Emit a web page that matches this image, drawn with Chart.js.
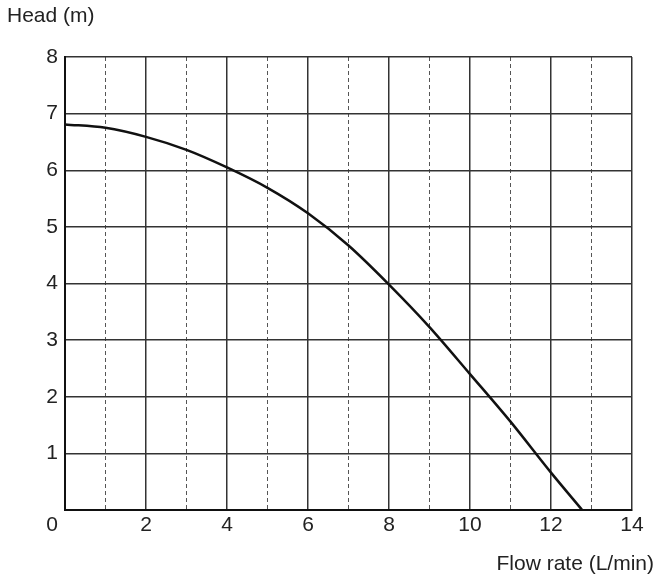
<!DOCTYPE html>
<html>
<head>
<meta charset="utf-8">
<script src="https://cdn.jsdelivr.net/npm/chart.js@4/dist/chart.umd.min.js"></script>
<style>
  html, body { margin: 0; padding: 0; background: #fff; }
  #wrap { width: 658px; height: 582px; }
</style>
</head>
<body>
<div id="wrap"><canvas id="pumpChart"></canvas></div>
<script>
"use strict"

// pump curve
const flowRate = [0, 1, 2, 3, 4, 5, 6, 7, 8, 9, 10, 11, 12, 12.77];
const head = [6.81, 6.75, 6.59, 6.36, 6.05, 5.69, 5.24, 4.67, 3.98, 3.23, 2.40, 1.56, 0.66, 0];

const xTicks = [0, 2, 4, 6, 8, 10, 12, 14];
const xMinorTicks = [1, 3, 5, 7, 9, 11, 13];
const yTicks = [0, 1, 2, 3, 4, 5, 6, 7, 8];

const xTitle = 'Flow rate (L/min)';
const yTitle = 'Head (m)';

const points = flowRate.map((f, i) => ({ x: f, y: head[i] }));

const fontFamily = '"Liberation Sans", Arial, sans-serif';
const fontSize = 21;

// axis titles sit outside the usual spots, so draw them by hand
const titlesPlugin = {
    id: 'titles',
    afterDraw(chart) {
        const c = chart.ctx;
        c.save();
        c.fillStyle = '#222';
        c.font = fontSize + 'px ' + fontFamily;
        c.textBaseline = 'middle';
        c.textAlign = 'left';
        c.fillText(yTitle, 7, 16);
        c.textAlign = 'right';
        c.fillText(xTitle, 654, 564);
        c.restore();
    }
};

const ctx = document.getElementById('pumpChart');

const pumpChart = new Chart(ctx, {
    type: 'scatter',
    data: {
        datasets: [{
            data: points,
            showLine: true,
            borderColor: '#111',
            borderWidth: 2.5,
            pointRadius: 0,
            cubicInterpolationMode: 'monotone',
            fill: false
        }]
    },
    options: {
        responsive: true,
        maintainAspectRatio: false,
        animation: false,
        layout: { padding: { left: 0, right: 26, top: 57, bottom: 0 } },
        plugins: {
            legend: { display: false },
            tooltip: { enabled: false }
        },
        scales: {
            x: {
                type: 'linear',
                position: 'bottom',
                min: 0,
                max: 14,
                afterBuildTicks: s => { s.ticks = xTicks.map(v => ({ value: v })); },
                afterFit: s => { s.height = 72; },
                ticks: {
                    color: '#222',
                    padding: 3,
                    autoSkip: false,
                    maxRotation: 0,
                    font: { size: fontSize, family: fontFamily },
                    // the shared 0 is written by the y axis
                    callback: v => v === 0 ? '' : String(v)
                },
                grid: { color: '#333', lineWidth: 1.5, drawTicks: false },
                border: { color: '#111', width: 2 }
            },
            xMinor: {
                type: 'linear',
                position: 'bottom',
                min: 0,
                max: 14,
                afterBuildTicks: s => { s.ticks = xMinorTicks.map(v => ({ value: v })); },
                afterFit: s => { s.height = 0; },
                ticks: { display: false, autoSkip: false },
                grid: { drawTicks: false, lineWidth: 1, color: '#555' },
                border: { display: false, dash: [4, 3] }
            },
            y: {
                min: 0,
                max: 8,
                afterBuildTicks: s => { s.ticks = yTicks.map(v => ({ value: v })); },
                afterFit: s => { s.width = 65; },
                ticks: {
                    color: '#222',
                    padding: 7,
                    autoSkip: false,
                    // 0 sits below the corner, so give it an empty first line
                    callback: v => v === 0 ? ['', '0'] : String(v),
                    font: c => ({
                        size: fontSize,
                        family: fontFamily,
                        lineHeight: (c.tick && c.tick.value === 0) ? 1.45 : 1.2
                    })
                },
                grid: { color: '#333', lineWidth: 1.5, drawTicks: false },
                border: { color: '#111', width: 2 }
            }
        }
    },
    plugins: [titlesPlugin]
});
</script>
</body>
</html>
